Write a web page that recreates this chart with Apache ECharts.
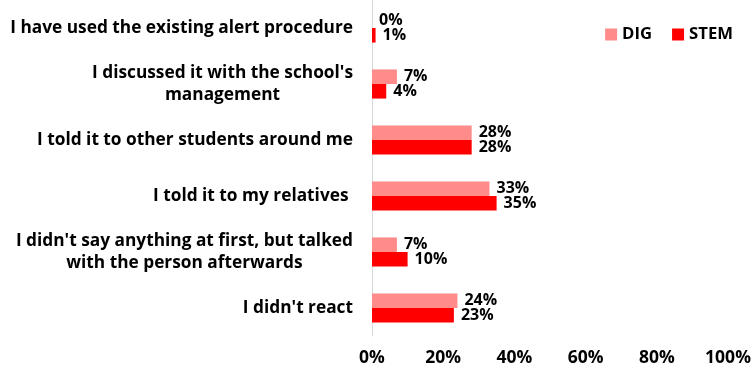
<!DOCTYPE html>
<html>
<head>
<meta charset="utf-8">
<script src="https://cdn.jsdelivr.net/npm/echarts@6/dist/echarts.min.js"></script>
<style>
  html, body { margin: 0; padding: 0; background: #fff; }
  #chart { width: 756px; height: 369px; }
</style>
</head>
<body>
<div id="chart"></div>
<script>
// Reactions reported by students, top to bottom
const categories = [
  "I have used the existing alert procedure",
  "I discussed it with the school's\nmanagement",
  "I told it to other students around me",
  "I told it to my relatives ",
  "I didn't say anything at first, but talked\nwith the person afterwards",
  "I didn't react"
];
const digValues = [0, 7, 28, 33, 7, 24];
const stemValues = [1, 4, 28, 35, 10, 23];
const xTicks = [0, 20, 40, 60, 80, 100];

const FONT = '"Open Sans", sans-serif';

const chart = echarts.init(document.getElementById('chart'));

function valueLabel() {
  return {
    show: true,
    position: 'right',
    distance: 7,
    formatter: p => p.value + '%',
    color: '#000',
    fontFamily: FONT,
    fontWeight: 'bold',
    fontSize: 16
  };
}

chart.setOption({
  animation: false,
  backgroundColor: '#fff',
  grid: { left: 372, right: 28, top: 0, bottom: 33, containLabel: false },
  legend: {
    right: 18,
    top: 21,
    itemWidth: 12,
    itemHeight: 12,
    itemGap: 20,
    icon: 'rect',
    textStyle: { fontFamily: FONT, fontWeight: 'bold', fontSize: 16.7, color: '#000' },
    data: ['DIG', 'STEM']
  },
  xAxis: {
    type: 'value',
    min: xTicks[0],
    max: xTicks[xTicks.length - 1],
    interval: xTicks[1] - xTicks[0],
    axisLine: { show: false },
    axisTick: { show: false },
    splitLine: { show: false },
    axisLabel: {
      formatter: v => v + '%',
      color: '#000',
      fontFamily: FONT,
      fontWeight: 'bold',
      fontSize: 17.5,
      margin: 13
    }
  },
  yAxis: {
    type: 'category',
    inverse: true,
    data: categories,
    axisLine: { show: true, lineStyle: { color: '#d9d9d9', width: 1 } },
    axisTick: { show: false },
    axisLabel: {
      margin: 19,
      formatter: v => v.split('\n').map(s => '{c|' + s + '}').join('\n'),
      rich: {
        c: {
          align: 'center',
          color: '#000',
          fontFamily: FONT,
          fontWeight: 'bold',
          fontSize: 17.3,
          lineHeight: 22
        }
      }
    }
  },
  series: [
    {
      name: 'DIG',
      type: 'bar',
      data: digValues,
      itemStyle: { color: '#ff8b8b' },
      barGap: '0%',
      barCategoryGap: '48%',
      label: valueLabel()
    },
    {
      name: 'STEM',
      type: 'bar',
      data: stemValues,
      itemStyle: { color: '#ff0000' },
      barGap: '0%',
      barCategoryGap: '48%',
      label: valueLabel()
    }
  ]
});
</script>
</body>
</html>
